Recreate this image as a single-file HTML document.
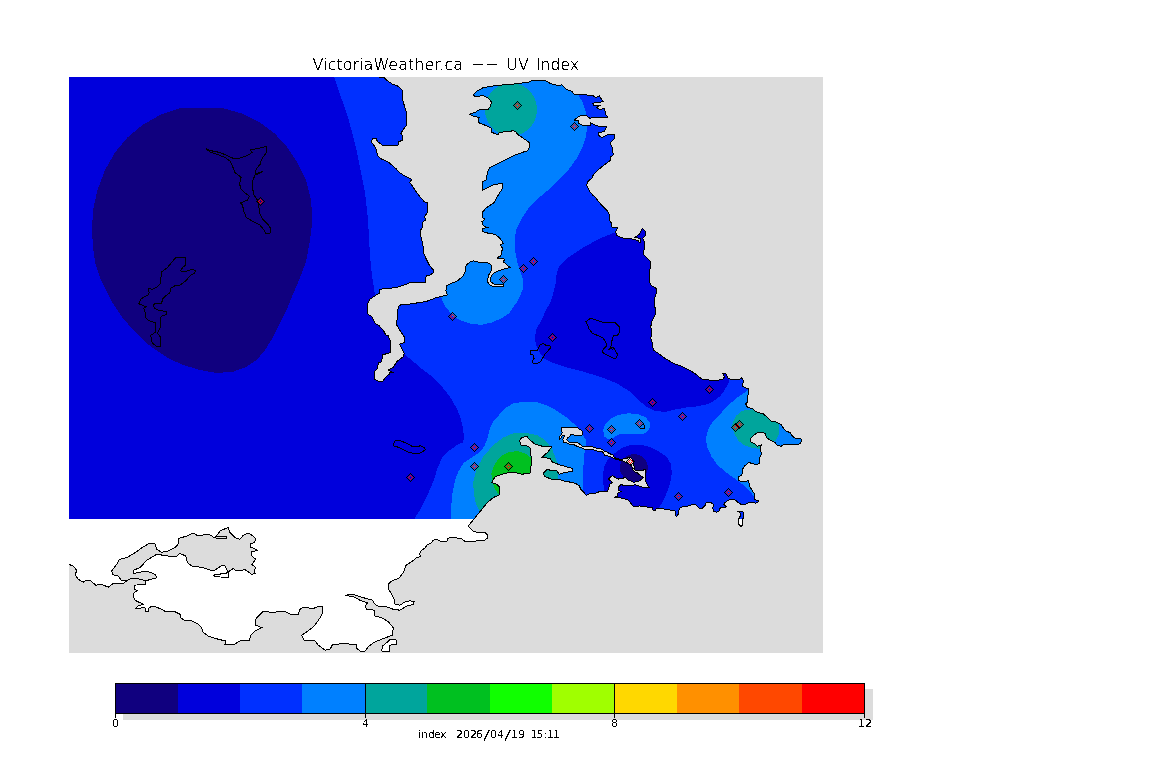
<!DOCTYPE html>
<html lang="en"><head><meta charset="utf-8"><title>VictoriaWeather.ca -- UV Index</title>
<style>html,body{margin:0;padding:0;background:#fff;overflow:hidden}svg{display:block}.t{font-family:"DejaVu Sans Light","DejaVu Sans","Liberation Sans",sans-serif;font-weight:200;fill:#000}.s{font-family:"DejaVu Sans","Liberation Sans",sans-serif;fill:#000}.ln{fill:none;stroke:#000;stroke-width:1}</style></head><body>
<svg width="1152" height="768" viewBox="0 0 1152 768" shape-rendering="crispEdges">
<defs>
<clipPath id="land"><path d="M69,77 L379.2,77 L383.3,77 L387.5,80.8 L392.5,84.2 L398.3,86.3 L402.5,90.8 L402,98.3 L404.2,105 L406.2,111.7 L406.7,125 L404.2,128.3 L400.8,133.3 L402.8,135.8 L402.8,140 L398.3,142 L398,145.3 L382.5,145.3 L380,143.3 L377.5,141.7 L376.3,138.7 L372.5,138.7 L371.2,141.7 L374.2,145.8 L376.7,150 L377.2,155 L380,158.3 L388.3,162 L396.7,169.2 L398.3,171.7 L403.3,175 L411.7,179.5 L409.7,182.5 L411.7,185 L416.7,192.5 L420,196.7 L424.2,201.7 L427,202.5 L427,213.3 L424.2,216.7 L425.8,219.7 L422.5,222.5 L422.2,227.5 L420.8,230 L420.8,236.7 L422.2,241.7 L423.3,247.5 L423.3,252.5 L426.7,260 L429.2,265 L433.3,270 L433.3,272.5 L430.8,274.7 L426.7,275.8 L425.5,278.3 L425.5,282.5 L409.2,283 L403.3,285.3 L396.7,287.5 L380,289.2 L379.2,293.3 L375,295.8 L370,299.2 L367,305 L367.5,311.7 L368,314.2 L371.7,316.7 L375,323.3 L378.3,325 L383.3,330 L385.8,335 L388.3,335.8 L390.8,342.5 L390.3,352.5 L382.5,355 L381.7,361.7 L378.3,363 L377.5,368.3 L375,370.8 L374.7,379.2 L379.2,381.7 L382.5,382 L385,378 L389.2,374.2 L389.2,372 L391.7,372 L388.3,370 L393.3,367.5 L396.7,361.7 L403.3,356.7 L404.2,353.7 L401.7,348.3 L399.7,344.2 L404.2,342.5 L404.2,336.7 L400.8,331.7 L396.7,325 L397.5,313.3 L396.7,311.7 L397.5,312.5 L398.3,306.7 L401.7,304.2 L408.3,304.2 L420,302.5 L426.7,301.3 L436.7,297.5 L447.5,295 L445.8,290.8 L446.7,285.8 L451.7,283.3 L457.5,280.8 L463.3,275.8 L465,271.7 L466.3,265 L470,262 L473.3,260.8 L480,262.5 L488.3,263 L491.3,265 L491.7,270 L488.3,275.8 L487.5,281.7 L490,285 L494.2,287 L503.3,286.3 L503.3,284.2 L495,285 L490.8,281.7 L490.3,278.3 L492.5,274.2 L496.7,271.3 L503.3,269.2 L510,267.5 L503.3,261.7 L505,259.2 L496.7,258 L500.8,255.8 L502.5,248.3 L500.3,245 L503.3,243.3 L500,238.3 L495,234.2 L490,233.7 L483,231.7 L482.5,228.7 L487.5,227.5 L483.3,225.8 L482,221.7 L484.7,219.2 L482,217.5 L482,212.5 L486.7,207.5 L494.2,202.5 L496.7,197.5 L498.3,195 L502.5,188.3 L502.5,183.7 L495,184.2 L486.7,188.3 L482.5,190 L482.5,181.7 L486.3,180 L487.5,171.7 L490,167.5 L496.7,164.2 L505,160 L513.3,155.8 L522,152.5 L527.5,150.8 L529.7,146.7 L529.2,142.5 L523.3,138.3 L517.5,134.2 L515.8,131.3 L513.3,130.8 L499.2,132.5 L498.3,134.7 L492,132.5 L491.7,128.3 L486.7,125.8 L480,123.3 L478.3,121.7 L479.2,117.5 L471.7,115.8 L469.7,114.2 L475,112.5 L480,109.2 L487.5,110 L490.8,105.8 L491.3,101.7 L488.3,98.3 L483.3,95.8 L475,96.3 L473.3,95 L477.5,90.8 L483.3,87.5 L498.3,85.3 L513.3,84.2 L518.3,83.3 L527.5,82.5 L532.5,80.3 L545,80.3 L550,83.3 L558.3,85.8 L561.7,84.7 L566.7,89.7 L571.7,91.3 L574.2,94.2 L586.7,95 L593.3,95.8 L595.8,97.5 L599.2,95.8 L603.3,101.7 L592.5,103.3 L593.3,105 L600,105.3 L596.7,107.5 L600,110 L604.7,108 L605.3,113.7 L607.5,117 L593.3,117 L590,118.3 L586.7,115.8 L580,115.8 L574.2,120 L578.3,120.8 L578.3,123.3 L583.3,125.8 L590,125.8 L590.8,123 L595,125 L600,126.7 L606.7,127 L604.2,131.7 L598.3,132.5 L598,135 L601.7,137.5 L608.3,134.2 L614.2,134.2 L614.7,138.3 L610,143.3 L612.5,148.3 L613.3,155 L610.8,156.7 L610.8,160 L600,168.3 L593.3,175 L591.7,178.3 L587.5,181.7 L586.7,185.8 L590,191.7 L593.3,195.8 L595,196.7 L600,203.3 L606.7,210 L609.2,214.2 L609.2,220 L611.7,223.3 L612,227 L617.5,227.5 L615.8,231.7 L616.3,235.3 L621.7,237.8 L633.3,239.2 L638.3,240.8 L640,243.3 L640.3,238.3 L635,237.5 L639.2,234.2 L642.5,228.3 L645.8,231.7 L645.3,235.8 L642.5,238.3 L645,243.3 L643.3,254.2 L646.7,257.5 L650.8,261.7 L650.8,268.3 L649.2,270 L650,283.3 L651.7,285.8 L656.7,288.7 L656.3,293.3 L655,296.7 L654.2,305 L655.3,308.3 L655.8,313.3 L654.2,316.7 L651.7,321.7 L650.8,326.7 L652,333.3 L650.8,338.3 L652.5,343.3 L653.3,350 L658.3,353.3 L665,358.3 L673.3,363.3 L680,365.6 L686.2,368.8 L692.5,371.9 L696.2,374.4 L698.8,376.9 L701.9,379 L708.8,380 L712.5,381 L717.5,380.2 L722.5,379.4 L724.4,376.9 L723.1,373.8 L725.6,373.1 L728.1,378.1 L731.2,379.4 L737.5,379.8 L741.2,378.8 L741.9,377.5 L743.8,381.9 L741.9,385 L742.5,386.5 L746.2,388.1 L748.5,389 L748.5,392.5 L747.5,397.5 L747.5,401.9 L745.6,403.8 L747.5,407.5 L753.1,408.8 L755,411.2 L760,413.1 L763.1,413.8 L767.5,417.5 L771.2,421.2 L776.2,421.9 L778.8,423.8 L781.2,424.4 L783.8,428.8 L786.2,431.2 L790,432.5 L792.5,436.2 L795,438.1 L800.6,438.5 L801.9,440 L800.6,443.1 L797.5,444.8 L790,444 L785,444 L781.2,446.2 L777.5,445.6 L775,442.5 L770,440 L766.9,438.1 L765,433.1 L758.1,432.5 L753.8,435 L750,438.8 L750.6,441.9 L755,443.8 L757.5,446.2 L761.2,445 L760,449.4 L761.9,453.8 L760,456.9 L759.4,463.8 L755,464.4 L748.8,462.5 L745,465.6 L742.5,469.4 L741.9,475 L738.8,476.9 L738.8,480.6 L742.5,481.9 L748.8,480.6 L749.4,486.2 L751.9,490 L754.4,493.8 L755,499.4 L758.8,501.2 L756.2,503.1 L748.8,502.5 L744.4,505 L741.2,504.4 L737.5,501.9 L735,499.8 L728.8,500 L725,502.5 L723.8,505 L726.9,506.9 L720,508.1 L718.8,511.2 L716.2,512.2 L713.8,511.2 L712.5,508.1 L713.8,504.4 L710,502.1 L706.2,502.1 L705,505.6 L702.5,508.1 L699.4,508.1 L696.2,505 L693.8,504 L687.5,506.2 L685,506 L680,507.9 L678.1,511.6 L678.5,513.5 L676.9,516.6 L675.6,515.4 L675,511 L668.8,509.8 L662.5,508.8 L656.2,508.5 L655.6,510.4 L653.1,510.4 L652.5,507.9 L645,506.6 L640,506 L633.1,506.2 L630,502.2 L627.5,499.8 L622.5,498.2 L614.4,497.2 L617.5,496.6 L618.1,492.9 L621.2,491.6 L618.8,490.4 L618.8,486.6 L621.2,484.5 L625,486 L631.9,485.4 L635,484.8 L642.5,487.2 L646.2,487.9 L649.4,487.9 L647.5,485.4 L645.6,481 L645,476 L645,469.8 L644.1,469.7 L642.2,470.9 L635.4,470.6 L634,468.4 L634.2,466.9 L633.5,463.8 L634.1,461.6 L631,458.1 L630.1,457.2 L627.2,458.1 L624.1,458.4 L621.6,459.7 L617.9,458.8 L614.1,457.5 L612.9,455 L608.5,453.1 L606.7,451.8 L604.1,451 L602.5,449.4 L598.9,448.6 L595.2,447.9 L592.6,446.8 L584.8,446.8 L582.2,446 L579.6,444 L577.5,442.4 L569.2,442.1 L567.1,440.3 L566.8,439 L567.6,438 L569.2,436.7 L570.5,435.1 L570.8,434.1 L573.4,434.3 L574.4,435.4 L581.7,435.4 L582.5,434.3 L582.5,432.5 L581.9,430.9 L580.9,429.6 L579.1,428.9 L577.5,427.3 L562.2,427.3 L561.6,427.8 L561.4,430.4 L562.2,433 L561.1,434.8 L559.8,436.1 L559,437.7 L559.3,439.8 L560.3,438.8 L561.4,437.2 L562.4,435.6 L565,436.1 L563.7,437.2 L562.9,439.3 L563.2,440.8 L563.5,442.7 L567.1,442.9 L569.2,444 L572.8,444.2 L575.4,445.5 L579.1,447.1 L582.7,448.4 L585.3,449.7 L593.7,449.9 L597.8,451.2 L602,451.5 L603.6,453.3 L604.6,455.4 L607.2,455.7 L609.3,456.5 L612,457.2 L612.5,457.8 L617,459.6 L621.9,460.6 L626.6,462.8 L630.4,465 L632.6,467.5 L633,470 L634.5,471.8 L637.3,472.8 L639.8,475 L643,477.5 L643.1,477.9 L640,480.4 L637.5,481.6 L633.8,482.2 L627.5,479.8 L625,477.2 L622.5,478.5 L618.8,479.1 L615.6,477.9 L612.5,475.4 L608.1,479.1 L612.5,482.2 L610,484.1 L608.8,487.2 L607.5,491.6 L603.8,491 L597.5,492.2 L595,493.5 L590,493.5 L586.2,495.4 L583.8,492.2 L580.6,489.1 L579.4,486 L576.2,483.8 L572,482.5 L563.3,480.8 L559.2,479.2 L551.7,479.2 L545,476.7 L543,473.3 L546.7,469.7 L556.7,470.8 L559.2,474.2 L563.3,473 L572,471.3 L572,468.3 L560,465 L551.7,461.7 L550,458.3 L541.7,457.5 L548.3,451.7 L551.7,446.7 L542.5,446.3 L535,444.2 L530,440 L526.7,436.3 L521.7,437.5 L519.7,440.8 L520.8,445 L526.7,445.8 L530.8,448.3 L530,453.3 L532,458.3 L530.8,468.3 L530,473.3 L521.7,474.2 L513.3,472 L505,473.3 L495,476.7 L491.7,482.5 L496.7,484.2 L499.2,486.7 L499.2,495 L493.3,497.5 L486.7,503.3 L480,511.7 L474.2,518.7 L474.2,519 L69,519Z"/></clipPath>
<filter id="th" x="-5%" y="-20%" width="110%" height="140%" color-interpolation-filters="sRGB"><feComponentTransfer><feFuncA type="discrete" tableValues="0 1"/></feComponentTransfer></filter>
<filter id="th4" x="-5%" y="-20%" width="110%" height="140%" color-interpolation-filters="sRGB"><feComponentTransfer><feFuncA type="discrete" tableValues="0 0 1 1 1"/></feComponentTransfer></filter>
<filter id="th3" x="-5%" y="-20%" width="110%" height="140%" color-interpolation-filters="sRGB"><feComponentTransfer><feFuncA type="discrete" tableValues="0 1 1"/></feComponentTransfer></filter>
<g id="mk"><rect x="-4" y="0" width="1" height="1" fill="#000"/><rect x="-3" y="-1" width="1" height="1" fill="#000"/><rect x="-3" y="1" width="1" height="1" fill="#000"/><rect x="-2" y="-2" width="1" height="1" fill="#000"/><rect x="-2" y="0" width="1" height="1" fill="#f00"/><rect x="-2" y="2" width="1" height="1" fill="#000"/><rect x="-1" y="-3" width="1" height="1" fill="#000"/><rect x="-1" y="-1" width="1" height="1" fill="#f00"/><rect x="-1" y="1" width="1" height="1" fill="#f00"/><rect x="-1" y="3" width="1" height="1" fill="#000"/><rect x="0" y="-4" width="1" height="1" fill="#000"/><rect x="0" y="-2" width="1" height="1" fill="#f00"/><rect x="0" y="2" width="1" height="1" fill="#f00"/><rect x="0" y="4" width="1" height="1" fill="#000"/><rect x="1" y="-3" width="1" height="1" fill="#000"/><rect x="1" y="-1" width="1" height="1" fill="#f00"/><rect x="1" y="1" width="1" height="1" fill="#f00"/><rect x="1" y="3" width="1" height="1" fill="#000"/><rect x="2" y="-2" width="1" height="1" fill="#000"/><rect x="2" y="0" width="1" height="1" fill="#f00"/><rect x="2" y="2" width="1" height="1" fill="#000"/><rect x="3" y="-1" width="1" height="1" fill="#000"/><rect x="3" y="1" width="1" height="1" fill="#000"/><rect x="4" y="0" width="1" height="1" fill="#000"/></g>
</defs>
<rect x="0" y="0" width="1152" height="768" fill="#fff"/>
<rect x="69" y="77" width="754" height="576" fill="#dcdcdc"/>
<path d="M69,519 L474.2,519 L468.1,526.2 L473.1,531.2 L477.5,532.5 L485,532.5 L487.5,535 L487.5,538.1 L485,540 L478.8,540.6 L472.5,541.5 L465,541.5 L461.9,538.8 L456.2,537.8 L450,537.2 L447.5,538.8 L446.9,541.2 L440.6,541.5 L436.9,539.4 L433.1,540.2 L431.2,543.1 L426.9,545 L425,548.1 L421.2,550.6 L419.4,553.8 L420.6,556.2 L416.2,558.1 L411.2,561.9 L406.2,565 L405,568.1 L403.8,571.9 L400,576.9 L398.3,578.5 L391.7,581 L388.3,584.3 L388.3,588.5 L391.7,594.3 L394.2,599.3 L395,604.3 L400,605.2 L405,601.8 L410,600.7 L414.2,601.8 L413.3,604.3 L406.7,606 L400,610.2 L393.3,609.3 L386.7,606.8 L378.3,606 L375,604.3 L372.5,600.2 L363.3,597.7 L353.3,594.3 L345,595.2 L353.3,596.8 L360,600.2 L367.5,602.7 L365,606.8 L366.7,609.3 L374.2,610.2 L375,616 L381.7,617.7 L388.3,621.8 L393.3,627.7 L392.5,635.2 L383.3,638.5 L373.3,642.7 L368.3,646.8 L365,651 L360,651 L356.7,648.5 L356.7,644.7 L343.3,643.5 L332.5,644.7 L330,649.3 L325,650.2 L318.3,645.2 L315,641 L304.2,640.2 L301.7,635.2 L306.7,631.8 L313.3,626.8 L316.7,622.7 L320,617.7 L322.5,612.7 L322.5,606.3 L318.3,606.3 L313.3,608.5 L303.3,607.3 L300,609.3 L298.3,614 L290,614 L285,611.3 L271.7,612.3 L263.3,611.3 L258.3,616 L255,620.2 L255.8,625.2 L261.7,627.7 L255,631 L250.8,635.2 L249.2,640.7 L240,641 L234.2,644.3 L225,644.3 L225.8,641 L218.3,639.3 L208.3,636 L202.5,631.8 L201.7,627.7 L198.3,624 L191.7,621 L184.2,620.2 L180.8,617.7 L180,614.3 L175,611.8 L165.8,611.8 L163.3,610.2 L155.8,606.8 L151.7,606.3 L148.3,608.5 L148.3,611.3 L145.8,611.3 L145,607.7 L135.8,608.5 L138.3,606 L143.3,604.3 L140,602.7 L135,600.2 L133.3,596 L134.2,592.7 L137.5,590.7 L134.2,589.3 L134.2,585.2 L145,584.3 L145,581 L141.7,579.3 L131.7,578 L126.7,580.7 L124.2,583 L113.3,583.5 L108.3,587.3 L101.7,584.3 L95.8,585.2 L90.3,580.5 L86.7,580.2 L83.3,582.2 L78.3,579.3 L75.8,576 L76.2,569.7 L73.3,566.3 L69,564.3 L69,564.3Z" fill="#fff"/>
<path d="M111.7,571 L116.7,564.3 L119.2,559.3 L126.7,557.7 L135,552.7 L143.3,546.8 L150,543 L155,544 L156.7,549.3 L161.7,552.3 L168.3,551 L175,547.7 L178.7,543.5 L178.7,538.5 L186.7,536 L193.3,533 L198.3,536 L208.3,534 L215,538 L220,531 L228.3,527.3 L230,532.7 L235,537.7 L240,539.3 L243.3,535.2 L248.3,533 L253.3,536 L255.8,539.3 L254.2,542.7 L250,543.5 L250,546.8 L257.5,550.2 L251.7,551.8 L251.7,556 L255.8,559.3 L251.7,564.3 L255.8,567.7 L254.2,571 L255,573.5 L251.7,574.3 L248.3,571.8 L245,569.7 L236.7,571 L233.3,568.5 L228.3,571.8 L226.7,569.3 L225,566 L222.5,565.2 L213.3,571 L201.7,567.3 L191.7,566 L187.5,562.7 L185.8,556 L180,553.5 L176.7,556 L168.3,556 L156.7,554.3 L146.7,560.2 L140,567.7 L133.3,570.2 L133.3,573.5 L146.7,571 L155,574.3 L156.7,577.7 L145,581 L141.7,579.3 L131.7,578 L126.7,581 L121.3,580.2 L118.3,576 L113,574.7Z" fill="#dcdcdc"/>
<g clip-path="url(#land)">
<rect x="69" y="77" width="754" height="442" fill="#0030ff"/>
<path d="M69,77 L334,77 L341,97 L348,117.5 L352,132 L357,152 L361,172 L365,192 L367.5,215 L369,236 L370,256.7 L372,275 L374.2,290 L375,296 L390,330 L404,354 L411.7,360 L420,367.5 L430,375 L440,384.2 L450,396.7 L456.7,408.3 L460.8,418.3 L463.3,430 L463.8,436 L463.3,442.5 L458.3,444.2 L450,450 L441.7,458.3 L437.5,468.3 L433.3,481.7 L426.7,496.7 L420,510 L414.2,519 L69,519Z" fill="#0000dc"/>
<path d="M615,232.5 L600,238.3 L583.3,247.5 L568.3,257.5 L559.2,266.7 L556.7,273.3 L555.8,283.3 L553.3,293.3 L550,303.3 L545.8,310 L541.7,320 L536.7,328.3 L535,336.7 L535.8,345 L540,353.3 L545,359.2 L551.7,362.5 L566.7,367.5 L583.3,371.7 L600,376.7 L616.7,383.3 L630,391.7 L638.3,400 L646.7,406.7 L655,410.8 L665,412 L676.7,409.2 L686.3,407.5 L696.3,406.5 L708.8,403.8 L715,400 L720,396.3 L723.8,391.3 L727.5,385 L729.5,380.5 L729,372 L700,350 L680,300 L665,235 L645,222 L625,225Z" fill="#0000dc"/>
<path d="M602.9,475 L604.1,466.9 L607.3,460.6 L612.3,455 L617.3,451.3 L622.3,447.8 L628.5,445.6 L636,444.7 L643.5,445.3 L651,447.5 L658.5,451.3 L664.1,455 L667.9,458.8 L670.6,463.5 L671.9,472.3 L670.6,481 L667.5,491 L663.8,499.8 L658.8,507.9 L655,515 L610,515 L605,495 L603.8,489.8 L603.3,481.7Z" fill="#0000dc"/>
<path d="M180,108 L160,115 L142.5,125 L127.5,137.5 L115,152.5 L105,170 L97.5,190 L93,210 L92,230 L93,247 L95,262 L100,277.5 L105,288.3 L111.7,301.7 L121.7,316.7 L133.3,330 L146.7,343.3 L158.3,351.7 L170,359.2 L183.3,365 L200,370 L216.7,373 L233.3,371.7 L246.7,366.7 L256.7,360 L265,350 L273.3,336.7 L280,323.3 L286.7,310 L292,296.7 L299,280 L306,262 L310,240 L312.5,220 L311,200 L306,180 L297.5,162.5 L287.5,147.5 L275,133.75 L260,122.5 L242.5,113.75 L222.5,108Z" fill="#10007f"/>
<path d="M647.8,467.6 L647.5,470.2 L646.7,472.8 L645.4,475.1 L643.7,477.1 L641.6,478.8 L639.2,480.1 L636.5,480.8 L633.8,481.1 L631.1,480.8 L628.4,480.1 L626,478.8 L623.9,477.1 L622.2,475.1 L620.9,472.8 L620.1,470.2 L619.8,467.6 L620.1,465 L620.9,462.4 L622.2,460.1 L623.9,458.1 L626,456.4 L628.4,455.1 L631.1,454.4 L633.8,454.1 L636.5,454.4 L639.2,455.1 L641.6,456.4 L643.7,458.1 L645.4,460.1 L646.7,462.4 L647.5,465Z" fill="#10007f"/>
<path d="M578.3,90 L578.3,95 L582.5,101.7 L585.3,110 L586.7,115.8 L587.5,125.8 L585.8,136.7 L582.5,146.7 L576.7,158.3 L568.3,170 L558.3,180 L548.3,190 L538.3,198.3 L528.3,208.3 L520.8,220 L516.7,228.3 L515,236.7 L515.3,251.7 L517.5,263.3 L521.7,275 L523.3,281.7 L522.5,290 L518.3,300 L512.5,308.3 L509.2,313.3 L501.7,318.3 L491.7,322.5 L481.7,324.7 L471.7,324.2 L461.7,320.8 L453.3,316.7 L448.3,310 L444.2,305 L441.7,298.3 L440,292 L440,250 L450,200 L455,150 L455,78 L578,78Z" fill="#0080ff"/>
<path d="M450.8,519 L450.8,510 L452.5,493.3 L455,480 L458.3,471.7 L463.3,463.3 L471.7,457.5 L478.3,453.3 L484.2,446.7 L487.5,438.3 L490,428.3 L493.3,421.7 L498.3,415.8 L503.3,410 L505,408.3 L513.3,403.3 L525,401.7 L536.7,402 L548.3,405.8 L558.3,411.7 L566.7,417.5 L573.3,423.3 L577.5,427.5 L581,432 L583.5,436 L586,440 L586,444 L585.3,450 L584.3,454 L584,460 L583,470 L582.5,480 L582.5,488.5 L582.5,500 L560,519Z" fill="#0080ff"/>
<path d="M603.3,430 L605,425 L610,419.2 L618.3,415 L628.3,413.3 L638.3,414.2 L645.8,417.5 L650,422.5 L650,426.7 L648,430.8 L643.8,433.8 L620,434.2 L616.7,435.4 L613.8,437.9 L608.3,439.2 L604.2,436.7Z" fill="#0080ff"/>
<path d="M748,389.4 L745,392.5 L738.8,396.3 L731.3,402.5 L723.8,410 L717.5,416.9 L711.3,423.8 L708.1,430 L706.3,436.3 L706.3,442.5 L707.5,447.5 L711.3,456.3 L717.5,465 L726.3,472.5 L735,478.8 L740,482.5 L745,486.3 L750,491.3 L753.8,496.3 L755,498.8 L770,500 L810,440 L760,385Z" fill="#0080ff"/>
<path d="M537,109.6 L536.8,113 L536.1,116.4 L535,119.7 L533.5,122.8 L531.6,125.7 L529.4,128.3 L526.8,130.5 L524,132.5 L520.9,134 L517.7,135.1 L514.4,135.8 L511,136 L507.6,135.8 L504.3,135.1 L501.1,134 L498,132.5 L495.2,130.5 L492.6,128.3 L490.4,125.7 L488.5,122.8 L487,119.7 L485.9,116.4 L485.2,113 L485,109.6 L485.2,106.2 L485.9,102.8 L487,99.5 L488.5,96.4 L490.4,93.5 L492.6,90.9 L495.2,88.7 L498,86.7 L501.1,85.2 L504.3,84.1 L507.6,83.4 L511,83.2 L514.4,83.4 L517.7,84.1 L520.9,85.2 L524,86.7 L526.8,88.7 L529.4,90.9 L531.6,93.5 L533.5,96.4 L535,99.5 L536.1,102.8 L536.8,106.2Z" fill="#00a59c"/>
<path d="M480,511.7 L475.8,503.3 L473.7,493.3 L473.3,481.7 L476.7,468.3 L483.3,456.7 L493.3,445 L503.3,437.5 L513.3,433.3 L526.7,433 L536.7,435 L545,440 L551.7,448.3 L555,456.7 L557,462.5 L558.3,468 L558.3,476 L556,484 L540,500 L490,519Z" fill="#00a59c"/>
<path d="M753,409.4 L746.3,410 L741.3,411.3 L736.3,415.6 L733.1,421.3 L731.9,427.5 L735,435 L738.8,441.3 L745,445.6 L752.5,448.1 L760,448.8 L768,446 L775.6,440.6 L778.1,436.3 L779.4,431.3 L778.8,423.8 L776,418 L770,412 L760,408Z" fill="#00a59c"/>
<path d="M491.3,473.3 L495,463.3 L501.7,455.8 L510,451.7 L518.3,451.3 L526.7,454.2 L531.7,458.3 L535,465 L533,475 L520,485 L505,495 L498,494 L494,487 L492,480Z" fill="#00c020"/>
</g>
<clipPath id="isl"><path d="M738.1,511.5 L742.5,511.2 L743.8,513.1 L743.8,516.2 L742.5,520 L742.5,525 L741.2,526.5 L738.8,524.4 L738.1,520.6 L739.4,517.5 L741.2,515 L740,513.1Z"/></clipPath>
<g clip-path="url(#isl)"><rect x="730" y="505" width="20" height="14" fill="#0030ff"/><rect x="730" y="519" width="20" height="12" fill="#fff"/></g>
<path d="M381.7,651 L382.5,646 L386.7,642.7 L390,639.3 L395.8,639 L396.7,644.3 L390,645.2 L389.2,651.8Z" fill="#fff"/>
<use href="#mk" x="260" y="201"/>
<use href="#mk" x="517" y="105"/>
<use href="#mk" x="574" y="126"/>
<use href="#mk" x="533" y="261"/>
<use href="#mk" x="523" y="268"/>
<use href="#mk" x="503" y="279"/>
<use href="#mk" x="452" y="316"/>
<use href="#mk" x="552" y="337"/>
<use href="#mk" x="474" y="447"/>
<use href="#mk" x="474" y="466"/>
<use href="#mk" x="508" y="466"/>
<use href="#mk" x="410" y="477"/>
<use href="#mk" x="589" y="428"/>
<use href="#mk" x="611" y="429"/>
<use href="#mk" x="611" y="442"/>
<use href="#mk" x="639" y="423"/>
<use href="#mk" x="652" y="402"/>
<use href="#mk" x="682" y="416"/>
<use href="#mk" x="709" y="389"/>
<use href="#mk" x="735" y="427"/>
<use href="#mk" x="739" y="424"/>
<use href="#mk" x="678" y="496"/>
<use href="#mk" x="728" y="492"/>
<use href="#mk" x="630" y="461"/>
<g class="ln">
<path d="M379.2,77 L383.3,77 L387.5,80.8 L392.5,84.2 L398.3,86.3 L402.5,90.8 L402,98.3 L404.2,105 L406.2,111.7 L406.7,125 L404.2,128.3 L400.8,133.3 L402.8,135.8 L402.8,140 L398.3,142 L398,145.3 L382.5,145.3 L380,143.3 L377.5,141.7 L376.3,138.7 L372.5,138.7 L371.2,141.7 L374.2,145.8 L376.7,150 L377.2,155 L380,158.3 L388.3,162 L396.7,169.2 L398.3,171.7 L403.3,175 L411.7,179.5 L409.7,182.5 L411.7,185 L416.7,192.5 L420,196.7 L424.2,201.7 L427,202.5 L427,213.3 L424.2,216.7 L425.8,219.7 L422.5,222.5 L422.2,227.5 L420.8,230 L420.8,236.7 L422.2,241.7 L423.3,247.5 L423.3,252.5 L426.7,260 L429.2,265 L433.3,270 L433.3,272.5 L430.8,274.7 L426.7,275.8 L425.5,278.3 L425.5,282.5 L409.2,283 L403.3,285.3 L396.7,287.5 L380,289.2 L379.2,293.3 L375,295.8 L370,299.2 L367,305 L367.5,311.7 L368,314.2 L371.7,316.7 L375,323.3 L378.3,325 L383.3,330 L385.8,335 L388.3,335.8 L390.8,342.5 L390.3,352.5 L382.5,355 L381.7,361.7 L378.3,363 L377.5,368.3 L375,370.8 L374.7,379.2 L379.2,381.7 L382.5,382 L385,378 L389.2,374.2 L389.2,372 L391.7,372 L388.3,370 L393.3,367.5 L396.7,361.7 L403.3,356.7 L404.2,353.7 L401.7,348.3 L399.7,344.2 L404.2,342.5 L404.2,336.7 L400.8,331.7 L396.7,325 L397.5,313.3 L396.7,311.7 L397.5,312.5 L398.3,306.7 L401.7,304.2 L408.3,304.2 L420,302.5 L426.7,301.3 L436.7,297.5 L447.5,295 L445.8,290.8 L446.7,285.8 L451.7,283.3 L457.5,280.8 L463.3,275.8 L465,271.7 L466.3,265 L470,262 L473.3,260.8 L480,262.5 L488.3,263 L491.3,265 L491.7,270 L488.3,275.8 L487.5,281.7 L490,285 L494.2,287 L503.3,286.3 L503.3,284.2 L495,285 L490.8,281.7 L490.3,278.3 L492.5,274.2 L496.7,271.3 L503.3,269.2 L510,267.5 L503.3,261.7 L505,259.2 L496.7,258 L500.8,255.8 L502.5,248.3 L500.3,245 L503.3,243.3 L500,238.3 L495,234.2 L490,233.7 L483,231.7 L482.5,228.7 L487.5,227.5 L483.3,225.8 L482,221.7 L484.7,219.2 L482,217.5 L482,212.5 L486.7,207.5 L494.2,202.5 L496.7,197.5 L498.3,195 L502.5,188.3 L502.5,183.7 L495,184.2 L486.7,188.3 L482.5,190 L482.5,181.7 L486.3,180 L487.5,171.7 L490,167.5 L496.7,164.2 L505,160 L513.3,155.8 L522,152.5 L527.5,150.8 L529.7,146.7 L529.2,142.5 L523.3,138.3 L517.5,134.2 L515.8,131.3 L513.3,130.8 L499.2,132.5 L498.3,134.7 L492,132.5 L491.7,128.3 L486.7,125.8 L480,123.3 L478.3,121.7 L479.2,117.5 L471.7,115.8 L469.7,114.2 L475,112.5 L480,109.2 L487.5,110 L490.8,105.8 L491.3,101.7 L488.3,98.3 L483.3,95.8 L475,96.3 L473.3,95 L477.5,90.8 L483.3,87.5 L498.3,85.3 L513.3,84.2 L518.3,83.3 L527.5,82.5 L532.5,80.3 L545,80.3 L550,83.3 L558.3,85.8 L561.7,84.7 L566.7,89.7 L571.7,91.3 L574.2,94.2 L586.7,95 L593.3,95.8 L595.8,97.5 L599.2,95.8 L603.3,101.7 L592.5,103.3 L593.3,105 L600,105.3 L596.7,107.5 L600,110 L604.7,108 L605.3,113.7 L607.5,117 L593.3,117 L590,118.3 L586.7,115.8 L580,115.8 L574.2,120 L578.3,120.8 L578.3,123.3 L583.3,125.8 L590,125.8 L590.8,123 L595,125 L600,126.7 L606.7,127 L604.2,131.7 L598.3,132.5 L598,135 L601.7,137.5 L608.3,134.2 L614.2,134.2 L614.7,138.3 L610,143.3 L612.5,148.3 L613.3,155 L610.8,156.7 L610.8,160 L600,168.3 L593.3,175 L591.7,178.3 L587.5,181.7 L586.7,185.8 L590,191.7 L593.3,195.8 L595,196.7 L600,203.3 L606.7,210 L609.2,214.2 L609.2,220 L611.7,223.3 L612,227 L617.5,227.5 L615.8,231.7 L616.3,235.3 L621.7,237.8 L633.3,239.2 L638.3,240.8 L640,243.3 L640.3,238.3 L635,237.5 L639.2,234.2 L642.5,228.3 L645.8,231.7 L645.3,235.8 L642.5,238.3 L645,243.3 L643.3,254.2 L646.7,257.5 L650.8,261.7 L650.8,268.3 L649.2,270 L650,283.3 L651.7,285.8 L656.7,288.7 L656.3,293.3 L655,296.7 L654.2,305 L655.3,308.3 L655.8,313.3 L654.2,316.7 L651.7,321.7 L650.8,326.7 L652,333.3 L650.8,338.3 L652.5,343.3 L653.3,350 L658.3,353.3 L665,358.3 L673.3,363.3 L680,365.6 L686.2,368.8 L692.5,371.9 L696.2,374.4 L698.8,376.9 L701.9,379 L708.8,380 L712.5,381 L717.5,380.2 L722.5,379.4 L724.4,376.9 L723.1,373.8 L725.6,373.1 L728.1,378.1 L731.2,379.4 L737.5,379.8 L741.2,378.8 L741.9,377.5 L743.8,381.9 L741.9,385 L742.5,386.5 L746.2,388.1 L748.5,389 L748.5,392.5 L747.5,397.5 L747.5,401.9 L745.6,403.8 L747.5,407.5 L753.1,408.8 L755,411.2 L760,413.1 L763.1,413.8 L767.5,417.5 L771.2,421.2 L776.2,421.9 L778.8,423.8 L781.2,424.4 L783.8,428.8 L786.2,431.2 L790,432.5 L792.5,436.2 L795,438.1 L800.6,438.5 L801.9,440 L800.6,443.1 L797.5,444.8 L790,444 L785,444 L781.2,446.2 L777.5,445.6 L775,442.5 L770,440 L766.9,438.1 L765,433.1 L758.1,432.5 L753.8,435 L750,438.8 L750.6,441.9 L755,443.8 L757.5,446.2 L761.2,445 L760,449.4 L761.9,453.8 L760,456.9 L759.4,463.8 L755,464.4 L748.8,462.5 L745,465.6 L742.5,469.4 L741.9,475 L738.8,476.9 L738.8,480.6 L742.5,481.9 L748.8,480.6 L749.4,486.2 L751.9,490 L754.4,493.8 L755,499.4 L758.8,501.2 L756.2,503.1 L748.8,502.5 L744.4,505 L741.2,504.4 L737.5,501.9 L735,499.8 L728.8,500 L725,502.5 L723.8,505 L726.9,506.9 L720,508.1 L718.8,511.2 L716.2,512.2 L713.8,511.2 L712.5,508.1 L713.8,504.4 L710,502.1 L706.2,502.1 L705,505.6 L702.5,508.1 L699.4,508.1 L696.2,505 L693.8,504 L687.5,506.2 L685,506 L680,507.9 L678.1,511.6 L678.5,513.5 L676.9,516.6 L675.6,515.4 L675,511 L668.8,509.8 L662.5,508.8 L656.2,508.5 L655.6,510.4 L653.1,510.4 L652.5,507.9 L645,506.6 L640,506 L633.1,506.2 L630,502.2 L627.5,499.8 L622.5,498.2 L614.4,497.2 L617.5,496.6 L618.1,492.9 L621.2,491.6 L618.8,490.4 L618.8,486.6 L621.2,484.5 L625,486 L631.9,485.4 L635,484.8 L642.5,487.2 L646.2,487.9 L649.4,487.9 L647.5,485.4 L645.6,481 L645,476 L645,469.8 L644.1,469.7 L642.2,470.9 L635.4,470.6 L634,468.4 L634.2,466.9 L633.5,463.8 L634.1,461.6 L631,458.1 L630.1,457.2 L627.2,458.1 L624.1,458.4 L621.6,459.7 L617.9,458.8 L614.1,457.5 L612.9,455 L608.5,453.1 L606.7,451.8 L604.1,451 L602.5,449.4 L598.9,448.6 L595.2,447.9 L592.6,446.8 L584.8,446.8 L582.2,446 L579.6,444 L577.5,442.4 L569.2,442.1 L567.1,440.3 L566.8,439 L567.6,438 L569.2,436.7 L570.5,435.1 L570.8,434.1 L573.4,434.3 L574.4,435.4 L581.7,435.4 L582.5,434.3 L582.5,432.5 L581.9,430.9 L580.9,429.6 L579.1,428.9 L577.5,427.3 L562.2,427.3 L561.6,427.8 L561.4,430.4 L562.2,433 L561.1,434.8 L559.8,436.1 L559,437.7 L559.3,439.8 L560.3,438.8 L561.4,437.2 L562.4,435.6 L565,436.1 L563.7,437.2 L562.9,439.3 L563.2,440.8 L563.5,442.7 L567.1,442.9 L569.2,444 L572.8,444.2 L575.4,445.5 L579.1,447.1 L582.7,448.4 L585.3,449.7 L593.7,449.9 L597.8,451.2 L602,451.5 L603.6,453.3 L604.6,455.4 L607.2,455.7 L609.3,456.5 L612,457.2 L612.5,457.8 L617,459.6 L621.9,460.6 L626.6,462.8 L630.4,465 L632.6,467.5 L633,470 L634.5,471.8 L637.3,472.8 L639.8,475 L643,477.5 L643.1,477.9 L640,480.4 L637.5,481.6 L633.8,482.2 L627.5,479.8 L625,477.2 L622.5,478.5 L618.8,479.1 L615.6,477.9 L612.5,475.4 L608.1,479.1 L612.5,482.2 L610,484.1 L608.8,487.2 L607.5,491.6 L603.8,491 L597.5,492.2 L595,493.5 L590,493.5 L586.2,495.4 L583.8,492.2 L580.6,489.1 L579.4,486 L576.2,483.8 L572,482.5 L563.3,480.8 L559.2,479.2 L551.7,479.2 L545,476.7 L543,473.3 L546.7,469.7 L556.7,470.8 L559.2,474.2 L563.3,473 L572,471.3 L572,468.3 L560,465 L551.7,461.7 L550,458.3 L541.7,457.5 L548.3,451.7 L551.7,446.7 L542.5,446.3 L535,444.2 L530,440 L526.7,436.3 L521.7,437.5 L519.7,440.8 L520.8,445 L526.7,445.8 L530.8,448.3 L530,453.3 L532,458.3 L530.8,468.3 L530,473.3 L521.7,474.2 L513.3,472 L505,473.3 L495,476.7 L491.7,482.5 L496.7,484.2 L499.2,486.7 L499.2,495 L493.3,497.5 L486.7,503.3 L480,511.7 L474.2,518.7 L468.1,526.2 L473.1,531.2 L477.5,532.5 L485,532.5 L487.5,535 L487.5,538.1 L485,540 L478.8,540.6 L472.5,541.5 L465,541.5 L461.9,538.8 L456.2,537.8 L450,537.2 L447.5,538.8 L446.9,541.2 L440.6,541.5 L436.9,539.4 L433.1,540.2 L431.2,543.1 L426.9,545 L425,548.1 L421.2,550.6 L419.4,553.8 L420.6,556.2 L416.2,558.1 L411.2,561.9 L406.2,565 L405,568.1 L403.8,571.9 L400,576.9 L398.3,578.5 L391.7,581 L388.3,584.3 L388.3,588.5 L391.7,594.3 L394.2,599.3 L395,604.3 L400,605.2 L405,601.8 L410,600.7 L414.2,601.8 L413.3,604.3 L406.7,606 L400,610.2 L393.3,609.3 L386.7,606.8 L378.3,606 L375,604.3 L372.5,600.2 L363.3,597.7 L353.3,594.3 L345,595.2 L353.3,596.8 L360,600.2 L367.5,602.7 L365,606.8 L366.7,609.3 L374.2,610.2 L375,616 L381.7,617.7 L388.3,621.8 L393.3,627.7 L392.5,635.2 L383.3,638.5 L373.3,642.7 L368.3,646.8 L365,651 L360,651 L356.7,648.5 L356.7,644.7 L343.3,643.5 L332.5,644.7 L330,649.3 L325,650.2 L318.3,645.2 L315,641 L304.2,640.2 L301.7,635.2 L306.7,631.8 L313.3,626.8 L316.7,622.7 L320,617.7 L322.5,612.7 L322.5,606.3 L318.3,606.3 L313.3,608.5 L303.3,607.3 L300,609.3 L298.3,614 L290,614 L285,611.3 L271.7,612.3 L263.3,611.3 L258.3,616 L255,620.2 L255.8,625.2 L261.7,627.7 L255,631 L250.8,635.2 L249.2,640.7 L240,641 L234.2,644.3 L225,644.3 L225.8,641 L218.3,639.3 L208.3,636 L202.5,631.8 L201.7,627.7 L198.3,624 L191.7,621 L184.2,620.2 L180.8,617.7 L180,614.3 L175,611.8 L165.8,611.8 L163.3,610.2 L155.8,606.8 L151.7,606.3 L148.3,608.5 L148.3,611.3 L145.8,611.3 L145,607.7 L135.8,608.5 L138.3,606 L143.3,604.3 L140,602.7 L135,600.2 L133.3,596 L134.2,592.7 L137.5,590.7 L134.2,589.3 L134.2,585.2 L145,584.3 L145,581 L141.7,579.3 L131.7,578 L126.7,580.7 L124.2,583 L113.3,583.5 L108.3,587.3 L101.7,584.3 L95.8,585.2 L90.3,580.5 L86.7,580.2 L83.3,582.2 L78.3,579.3 L75.8,576 L76.2,569.7 L73.3,566.3 L69,564.3"/>
<path d="M111.7,571 L116.7,564.3 L119.2,559.3 L126.7,557.7 L135,552.7 L143.3,546.8 L150,543 L155,544 L156.7,549.3 L161.7,552.3 L168.3,551 L175,547.7 L178.7,543.5 L178.7,538.5 L186.7,536 L193.3,533 L198.3,536 L208.3,534 L215,538 L220,531 L228.3,527.3 L230,532.7 L235,537.7 L240,539.3 L243.3,535.2 L248.3,533 L253.3,536 L255.8,539.3 L254.2,542.7 L250,543.5 L250,546.8 L257.5,550.2 L251.7,551.8 L251.7,556 L255.8,559.3 L251.7,564.3 L255.8,567.7 L254.2,571 L255,573.5 L251.7,574.3 L248.3,571.8 L245,569.7 L236.7,571 L233.3,568.5 L228.3,571.8 L226.7,569.3 L225,566 L222.5,565.2 L213.3,571 L201.7,567.3 L191.7,566 L187.5,562.7 L185.8,556 L180,553.5 L176.7,556 L168.3,556 L156.7,554.3 L146.7,560.2 L140,567.7 L133.3,570.2 L133.3,573.5 L146.7,571 L155,574.3 L156.7,577.7 L145,581 L141.7,579.3 L131.7,578 L126.7,581 L121.3,580.2 L118.3,576 L113,574.7Z"/>
<path d="M213.3,575.2 L228.3,572.7 L228.3,577.3 L215,576.8Z"/>
<path d="M738.1,511.5 L742.5,511.2 L743.8,513.1 L743.8,516.2 L742.5,520 L742.5,525 L741.2,526.5 L738.8,524.4 L738.1,520.6 L739.4,517.5 L741.2,515 L740,513.1Z"/>
<path d="M381.7,651 L382.5,646 L386.7,642.7 L390,639.3 L395.8,639 L396.7,644.3 L390,645.2 L389.2,651.8Z"/>
<path d="M205.8,148.5 L210,150.5 L220,152.5 L232.5,158 L240,158 L247.5,155.5 L252,152.5 L250.5,150 L260,148 L266.5,146.2 L266.5,152.5 L263.8,156.2 L261.2,160 L260,164.5 L257.5,167.5 L255,171.2 L255.5,173.8 L263,171.5 L260,173 L255,175 L253,180 L252.5,187.5 L253.8,195 L257.5,200 L258.8,206.2 L260,213.8 L262.5,218.8 L267.5,223.8 L270.8,228.8 L270,233 L266.2,233.8 L263.8,230 L260,225 L252.5,221.2 L246.2,217.5 L243.8,211.2 L242.5,205 L240.5,203 L247.5,200 L249.5,196.2 L246.2,193.8 L241.2,189.5 L239.5,183.8 L241.2,177.5 L238.8,175.5 L235,172.5 L232.5,166.2 L230,161.2 L225,157.5 L217.5,154.5 L210,152Z"/>
<path d="M175.8,257.5 L185.8,257.5 L185.8,265 L182.5,267.5 L180.8,270.8 L183.3,272 L188.3,270.8 L192.5,269.2 L195.8,270.8 L194.2,273.3 L190,275.8 L185.8,280.8 L180,285 L175,285.8 L170.8,288.3 L170,292.5 L165.8,295.8 L162.5,299.2 L161.7,303 L155,303.7 L153,305.3 L155,308.7 L160,310.8 L166.7,311.3 L166.7,314.7 L162.5,315.3 L160.3,318.3 L160,328.3 L157.5,333.3 L160.3,336.7 L160.3,346.7 L156.7,346.3 L152.5,343.3 L151.3,340 L150.8,335.3 L155,332.5 L155,322.5 L149.2,320.8 L145.3,317.5 L145,311.7 L143.7,308.3 L145.8,306.7 L138.7,303.7 L140.8,299.2 L144.2,296.7 L148.3,295 L149.2,292.5 L148.3,288.7 L152.5,289.2 L157.5,286.7 L160,284.2 L160.8,279.2 L161.7,271.7 L166.7,268.3 L171.7,262.5Z"/>
<path d="M393.3,444.2 L395,440.8 L400,440.5 L406.7,443.3 L413.3,447 L420.8,445.8 L424.2,447.5 L425.3,450 L420,453 L415,453.7 L408.3,452 L401.7,448.7 L396.7,446.7 L393.3,445.8Z"/>
<path d="M530.3,350.8 L531.7,350 L537.5,350 L540,345 L543.3,343.3 L545.8,345.3 L550,345.8 L550.8,347.5 L545,354.2 L542.5,358.3 L540.8,361.7 L537.5,363.3 L533.3,363.3 L532,361.7 L534.2,358.3 L533.3,355 L530.8,354.2Z"/>
<path d="M585.8,321.7 L590.8,318 L596.7,320.3 L605,323 L615,322.5 L619.2,326.7 L619.7,332.5 L617.5,335 L613.3,335.8 L611.7,341.7 L610.8,347.5 L613.3,347.5 L617.5,354.2 L616.7,357.5 L614.2,358.7 L608.3,355.8 L602.5,352.5 L603.3,349.2 L606.7,345.8 L605.8,341.7 L602.5,337.5 L598.3,335.8 L592.5,333.3 L589.2,329.2 L587.5,325Z"/>
<path d="M608.3,350 L610.8,348 L613.3,350"/>
<path d="M639.5,427 L640.5,428.5 L644.5,428.5 L644.5,425.5 L643,424"/>
<path d="M216.7,536 L226.7,536 L226.7,538 L215.8,538"/>
</g>
<rect x="123" y="689" width="750" height="31" fill="#dcdcdc"/>
<rect x="115" y="683" width="63" height="30" fill="#10007f"/>
<rect x="178" y="683" width="62" height="30" fill="#0000dc"/>
<rect x="240" y="683" width="62" height="30" fill="#0030ff"/>
<rect x="302" y="683" width="63" height="30" fill="#0080ff"/>
<rect x="365" y="683" width="62" height="30" fill="#00a59c"/>
<rect x="427" y="683" width="63" height="30" fill="#00c020"/>
<rect x="490" y="683" width="62" height="30" fill="#10ff00"/>
<rect x="552" y="683" width="62" height="30" fill="#a0ff00"/>
<rect x="614" y="683" width="63" height="30" fill="#ffd800"/>
<rect x="677" y="683" width="62" height="30" fill="#ff9000"/>
<rect x="739" y="683" width="63" height="30" fill="#ff4800"/>
<rect x="802" y="683" width="62" height="30" fill="#ff0000"/>
<path class="ln" d="M115.5,683.5 H864.5 V713.5 H115.5 Z M115.5,683.5 V717.5 M365.5,683.5 V717.5 M614.5,683.5 V717.5 M864.5,683.5 V717.5"/>
<g shape-rendering="auto">
<text class="t" filter="url(#th3)" y="70" font-size="16.5"><tspan x="312.6" textLength="150.5" lengthAdjust="spacingAndGlyphs">VictoriaWeather.ca</tspan> <tspan x="471" dy="-1" textLength="28" lengthAdjust="spacingAndGlyphs">--</tspan> <tspan x="506.3" dy="1" textLength="22.5" lengthAdjust="spacingAndGlyphs">UV</tspan> <tspan x="536" textLength="43" lengthAdjust="spacingAndGlyphs">Index</tspan></text>
<text class="s" filter="url(#th)" y="727" font-size="11"><tspan x="112">0</tspan> <tspan x="362">4</tspan> <tspan x="611">8</tspan> <tspan x="858 865">12</tspan></text>
<text class="s" filter="url(#th)" y="738" font-size="11"><tspan x="418 421 428 434 440">index</tspan>  <tspan x="456 463 470 476">2026</tspan></text><text class="t" filter="url(#th3)" x="483.2" y="739" font-size="12.5" textLength="7" lengthAdjust="spacingAndGlyphs">/</text><text class="s" filter="url(#th)" x="490 497" y="738" font-size="11">04</text><text class="t" filter="url(#th3)" x="504.2" y="739" font-size="12.5" textLength="7" lengthAdjust="spacingAndGlyphs">/</text><text class="s" filter="url(#th)" y="738" font-size="11"><tspan x="511 518">19</tspan> <tspan x="530.5 536.5 543.7 547 553">15:11</tspan></text>
</g>
</svg></body></html>
